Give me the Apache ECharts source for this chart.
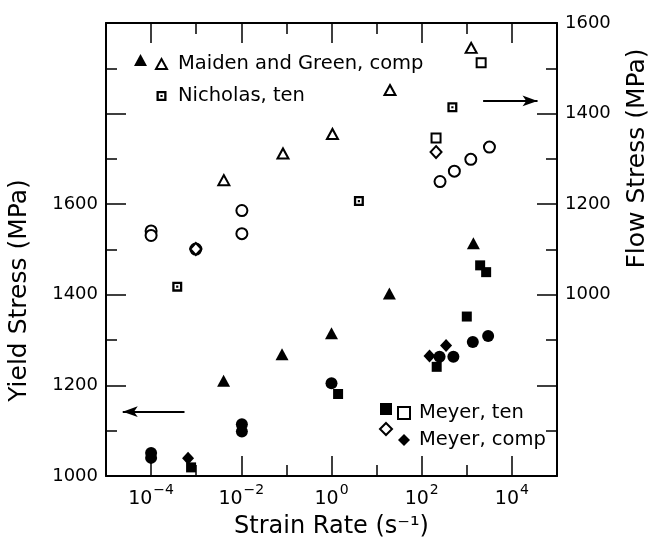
<!DOCTYPE html>
<html style="height: 100%">
<head>
<meta charset="utf-8">
<title>Yield and flow stress vs strain rate</title>
</head>
<body style="height: 100%; margin: 0">
<div id="container" style="width: 659px; height: 541px"></div>
<script src="https://cdn.jsdelivr.net/npm/echarts@6/dist/echarts.min.js"></script>
<script>
// strain rates in 1/s, stresses in MPa
// Maiden and Green, comp
var mgYieldRate = [0.00405, 0.080, 1.0, 19.2, 1400];
var mgYieldStress = [1210, 1269, 1315, 1403, 1514];
var mgFlowRate = [0.0041, 0.084, 1.05, 19.8, 1250];
var mgFlowStress = [1253, 1312, 1355, 1452, 1545];
// Nicholas, ten (flow stress axis)
var nicRate = [0.00038, 4.05, 479];
var nicStress = [1018, 1207, 1414];
// Meyer, ten
var myTenYieldRate = [0.00077, 1.40, 215, 1000, 1977, 2685];
var myTenYieldStress = [1019, 1181, 1241, 1352, 1465, 1450];
var myTenFlowRate = [208, 2080];
var myTenFlowStress = [1346, 1512];
// Meyer, comp
var myCompYieldRate = [0.00066, 149, 347];
var myCompYieldStress = [1039, 1265, 1288];
var myCompFlowRate = [0.00098, 208];
var myCompFlowStress = [1101, 1315];
// circles (no legend entry)
var circYieldRate = [0.0001, 0.0001, 0.0103, 0.0103, 1.0, 249, 504, 1358, 2972];
var circYieldStress = [1051, 1040, 1114, 1098, 1205, 1263, 1263, 1296, 1309];
var circFlowRate = [0.0001, 0.0001, 0.00098, 0.0103, 0.0103, 255, 530, 1227, 3177];
var circFlowStress = [1141, 1131, 1101, 1186, 1135, 1250, 1273, 1299, 1326];

// axis ticks
var tickDecades = [1e-4, 1e-3, 1e-2, 1e-1, 1, 10, 100, 1e3, 1e4];
var labelDecades = [1e-4, 1e-2, 1, 100, 1e4];

// arrows pointing to the axes: [rate from, rate to, stress]
var leftArrow = [5.5e-4, 2.35e-5, 1142];
var rightArrow = [2300, 37000, 1428];

var FONT = 'DejaVu Sans';
var crossSquare = 'path://M0,0H10V10H0Z M2.3,2.3V7.7H7.7V2.3Z M3.9,3.9H6.1V6.1H3.9Z';

function pts(rates, stresses) {
    return rates.map(function (r, i) { return [r, stresses[i]]; });
}

var dom = document.getElementById('container');
var myChart = echarts.init(dom);

function scatter(name, rates, stresses, axis, symbol, size, open) {
    return {
        name: name,
        type: 'scatter',
        xAxisIndex: 0,
        yAxisIndex: axis,
        symbol: symbol,
        symbolSize: size,
        itemStyle: open ? { color: '#000', borderWidth: 1.7, opacity: 1 } : { color: '#000', opacity: 1 },
        emphasis: { disabled: true },
        data: pts(rates, stresses)
    };
}

var blackLine = { color: '#000', width: 2 };
var tickLine = { color: '#000', width: 1.5 };
var logBase = { type: 'log', logBase: 10, min: 1e-5, max: 1e5, splitLine: { show: false }, minorTick: { show: false } };

var arrowLine = { color: '#000', width: 1.8, type: 'solid' };
var circYield = scatter('circles (yield)', circYieldRate, circYieldStress, 0, 'circle', 12, false);
circYield.markLine = {
    silent: true, symbol: ['none', 'arrow'], symbolSize: [8, 15],
    label: { show: false }, lineStyle: arrowLine,
    data: [[{ coord: [leftArrow[0], leftArrow[2]] }, { coord: [leftArrow[1], leftArrow[2]] }]]
};
var circFlow = scatter('circles (flow)', circFlowRate, circFlowStress, 1, 'emptyCircle', 11, true);
circFlow.markLine = {
    silent: true, symbol: ['none', 'arrow'], symbolSize: [8, 15],
    label: { show: false }, lineStyle: arrowLine,
    data: [[{ coord: [rightArrow[0], rightArrow[2]] }, { coord: [rightArrow[1], rightArrow[2]] }]]
};

var legendText = { fontFamily: FONT, fontSize: 19.5, color: '#000', lineHeight: 20, padding: [0, 0, 0, 6] };
var legendTextB = { fontFamily: FONT, fontSize: 19.5, color: '#000', lineHeight: 20, padding: [0, 0, 0, 4] };

option = {
    animation: false,
    backgroundColor: '#fff',
    grid: { left: 106, right: 102, top: 23, bottom: 65, outerBoundsMode: 'none' },
    legend: [
        { left: 155, top: 54, orient: 'vertical', itemGap: 12, itemWidth: 11, itemHeight: 10, padding: 0, selectedMode: false,
          data: ['Maiden and Green, comp', 'Nicholas, ten'], textStyle: legendText },
        { left: 134, top: 54, orient: 'vertical', itemWidth: 13, itemHeight: 12, padding: 0, selectedMode: false,
          data: ['Maiden and Green, comp (yield)'], formatter: function () { return ''; }, textStyle: legendText },
        { left: 397, top: 403, orient: 'vertical', itemGap: 7, itemWidth: 12, itemHeight: 12, padding: 0, selectedMode: false,
          data: ['Meyer, ten', 'Meyer, comp'], textStyle: legendTextB },
        { left: 379, top: 403, orient: 'vertical', itemGap: 7, itemWidth: 12, itemHeight: 12, padding: 0, selectedMode: false,
          data: ['Meyer, ten (yield)', 'Meyer, comp (flow)'], formatter: function () { return ''; }, textStyle: legendTextB }
    ],
    xAxis: [
        Object.assign({}, logBase, {
            position: 'bottom',
            axisLine: { onZero: false, lineStyle: blackLine },
            axisTick: { inside: true, length: 11, lineStyle: tickLine, customValues: tickDecades },
            axisLabel: { show: false },
            name: 'Strain Rate (s\u207B\u00B9)', nameLocation: 'middle', nameGap: 39,
            nameTextStyle: { fontFamily: FONT, fontSize: 24, color: '#000' }
        }),
        Object.assign({}, logBase, {
            position: 'bottom',
            axisLine: { show: false, onZero: false },
            axisTick: { inside: true, length: 20, lineStyle: tickLine, customValues: labelDecades },
            axisLabel: {
                customValues: labelDecades, margin: 7, color: '#000',
                formatter: function (v) {
                    var e = Math.round(Math.log10(v));
                    return '{b|10}{s|' + (e < 0 ? '\u2212' + (-e) : e) + '}';
                },
                rich: {
                    b: { fontFamily: FONT, fontSize: 19, color: '#000', lineHeight: 26, verticalAlign: 'bottom' },
                    s: { fontFamily: FONT, fontSize: 14, color: '#000', lineHeight: 14, verticalAlign: 'top', padding: [0, 0, 0, 1] }
                }
            }
        }),
        Object.assign({}, logBase, {
            position: 'top',
            axisLine: { onZero: false, lineStyle: blackLine },
            axisTick: { inside: true, length: 11, lineStyle: tickLine, customValues: tickDecades },
            axisLabel: { show: false }
        }),
        Object.assign({}, logBase, {
            position: 'top',
            axisLine: { show: false, onZero: false },
            axisTick: { inside: true, length: 20, lineStyle: tickLine, customValues: labelDecades },
            axisLabel: { show: false }
        })
    ],
    yAxis: [
        {
            type: 'value', position: 'left', min: 1000, max: 2000, interval: 200,
            axisLine: { show: true, onZero: false, lineStyle: blackLine },
            axisTick: { show: true, inside: true, length: 20, lineStyle: tickLine },
            minorTick: { show: true, splitNumber: 2, length: 11, lineStyle: tickLine },
            splitLine: { show: false },
            axisLabel: { color: '#000', fontFamily: FONT, fontSize: 18, margin: 8,
                formatter: function (v) { return v <= 1600 ? v : ''; } },
            name: 'Yield Stress (MPa)', nameLocation: 'middle', nameGap: 74, nameRotate: 90,
            nameTextStyle: { fontFamily: FONT, fontSize: 25, color: '#000', padding: [0, 82, 0, 0] }
        },
        {
            type: 'value', position: 'right', min: 600, max: 1600, interval: 200,
            axisLine: { show: true, onZero: false, lineStyle: blackLine },
            axisTick: { show: true, inside: true, length: 20, lineStyle: tickLine },
            minorTick: { show: true, splitNumber: 2, length: 11, lineStyle: tickLine },
            splitLine: { show: false },
            axisLabel: { color: '#000', fontFamily: FONT, fontSize: 18, margin: 8,
                formatter: function (v) { return v >= 1000 ? v : ''; } },
            name: 'Flow Stress (MPa)', nameLocation: 'middle', nameGap: 68, nameRotate: 90,
            nameTextStyle: { fontFamily: FONT, fontSize: 25, color: '#000', padding: [0, 0, 0, 182] }
        }
    ],
    series: [
        circYield,
        circFlow,
        scatter('Maiden and Green, comp (yield)', mgYieldRate, mgYieldStress, 0, 'triangle', [13, 12], false),
        scatter('Maiden and Green, comp', mgFlowRate, mgFlowStress, 1, 'emptyTriangle', [11, 10], true),
        scatter('Nicholas, ten', nicRate, nicStress, 1, crossSquare, 10, false),
        scatter('Meyer, ten (yield)', myTenYieldRate, myTenYieldStress, 0, 'rect', 10, false),
        scatter('Meyer, ten', myTenFlowRate, myTenFlowStress, 1, 'emptyRect', 9, true),
        scatter('Meyer, comp', myCompYieldRate, myCompYieldStress, 0, 'diamond', [12, 13], false),
        scatter('Meyer, comp (flow)', myCompFlowRate, myCompFlowStress, 1, 'emptyDiamond', [11, 12], true)
    ]
};

myChart.setOption(option);
window.onresize = function () {
    myChart.resize();
};
</script>
</body>
</html>
